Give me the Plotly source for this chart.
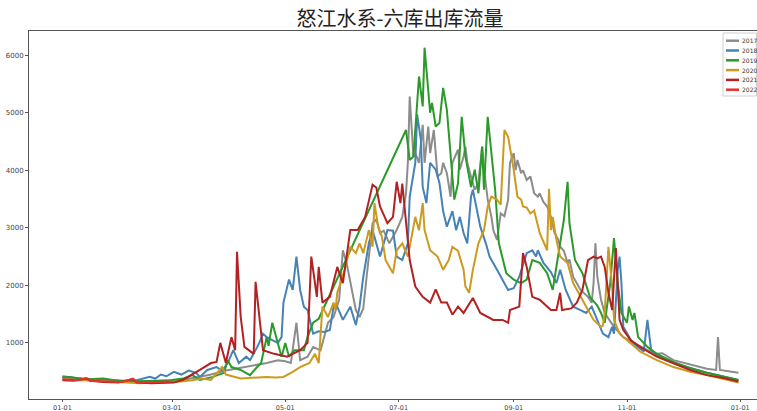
import pandas as pd
import plotly.graph_objects as go

# ---------------- data (day offset from 01-01, flow m3/s) ----------------
series_names = ["2017", "2018", "2019", "2020", "2021", "2022"]
series_colors = ["#8c8c8c", "#4682b4", "#2a9a2a", "#cc9a1e", "#b22222", "#e8302f"]

grey_days = [0, 5, 12, 20, 28, 35, 42, 50, 58, 65, 72, 80, 88, 95, 102, 110, 116, 120, 123, 126, 128, 132, 135, 139,
             143, 146, 149, 151, 153, 155, 158, 160, 162, 164, 167, 169, 171, 173, 176, 180, 183, 185, 186, 187, 189,
             190, 192, 194, 195, 197, 198, 200, 202, 204, 205, 207, 209, 210, 213, 214, 216, 217, 218, 220, 222, 224,
             226, 227, 229, 231, 232, 234, 236, 238, 240, 241, 243, 244, 245, 247, 248, 250, 252, 254, 256, 257, 259,
             261, 263, 265, 267, 268, 270, 272, 273, 275, 279, 283, 285, 286, 287, 288, 290, 292, 297, 302, 308, 315,
             320, 323, 329, 338, 347, 352, 353, 354, 364]
grey_vals = [400, 390, 370, 350, 340, 330, 320, 330, 340, 360, 400, 450, 520, 560, 600, 650, 700, 680, 650, 1350, 700,
             760, 930, 870, 1350, 1450, 1750, 2610, 2390, 2040, 1570, 1450, 1600, 2210, 3080, 3150, 2910, 2950, 2730,
             2960, 3190, 3600, 4130, 5280, 4240, 4300, 4130, 4790, 4130, 4760, 4300, 4700, 3890, 3950, 4130, 3950,
             3540, 4130, 4360, 4010, 4240, 4410, 4130, 3890, 3660, 3780, 4410, 4010, 3490, 3190, 2960, 2790, 3250,
             3200, 3490, 4130, 4300, 4000, 4180, 3950, 4000, 3830, 3890, 3600, 3540, 3600, 3450, 3370, 3190, 2910,
             2790, 2670, 2600, 2390, 2450, 2150, 1920, 1800, 1700, 2040, 2730, 2150, 1750, 1520, 1280, 1100, 1000,
             874, 810, 820, 700, 620, 550, 530, 1100, 530, 480]

blue_days = [0, 5, 10, 18, 25, 32, 40, 47, 50, 53, 56, 60, 64, 68, 72, 74, 78, 83, 86, 89, 92, 95, 99, 101, 104, 106,
             108, 110, 113, 116, 118, 119, 122, 124, 126, 128, 130, 132, 135, 138, 141, 144, 146, 148, 151, 155, 158,
             160, 162, 165, 167, 171, 175, 178, 180, 183, 186, 187, 190, 191, 193, 194, 196, 198, 201, 203, 205, 207,
             210, 212, 214, 216, 218, 220, 221, 223, 225, 228, 230, 234, 237, 240, 243, 246, 250, 253, 255, 256, 259,
             263, 266, 268, 271, 275, 279, 282, 285, 288, 291, 294, 296, 297, 299, 300, 301, 302, 307, 313, 315, 317,
             320, 329, 338, 347, 364]
blue_vals = [420, 400, 380, 370, 350, 340, 350, 409, 380, 450, 420, 496, 450, 520, 480, 409, 530, 580, 520, 650, 874,
             650, 760, 700, 874, 1000, 1160, 1100, 1050, 1000, 1100, 1700, 2100, 1920, 2500, 1920, 1630, 1570, 1160,
             1200, 1190, 1225, 1630, 1630, 1400, 1630, 1310, 1630, 2150, 2730, 2960, 2500, 2960, 2950, 2500, 2440,
             2730, 3540, 4130, 4970, 4530, 3710, 3430, 4130, 4010, 3780, 3290, 3020, 3290, 2960, 3190, 2910, 2730,
             3540, 3660, 3370, 3020, 2730, 2500, 2270, 2100, 1920, 1950, 2150, 2560, 2610, 2500, 2610, 2390, 2230,
             2040, 2270, 1920, 1630, 1570, 1520, 1630, 1400, 1160, 1100, 1280, 1160, 2270, 2500, 2040, 1280, 1000,
             850, 1400, 874, 790, 650, 560, 480, 357]

green_days = [0, 4, 8, 14, 22, 28, 35, 42, 50, 58, 65, 70, 74, 81, 87, 89, 91, 96, 101, 104, 107, 110, 111, 113, 115,
              118, 120, 122, 125, 130, 132, 135, 138, 185, 187, 189, 192, 194, 195, 197, 198, 199, 201, 203, 205, 207,
              209, 211, 213, 215, 217, 220, 222, 224, 226, 227, 229, 231, 233, 235, 239, 243, 247, 250, 253, 257, 261,
              264, 266, 268, 270, 272, 273, 276, 280, 284, 288, 290, 292, 295, 297, 299, 301, 304, 305, 307, 308, 310,
              315, 320, 329, 338, 347, 364]
green_vals = [400, 409, 380, 370, 380, 350, 330, 330, 340, 350, 380, 440, 357, 409, 480, 700, 580, 530, 440, 550, 650,
              1100, 950, 1350, 1100, 760, 1000, 760, 874, 874, 1100, 1350, 1420, 4700, 4180, 4240, 5630, 5110, 6130,
              5450, 5000, 5170, 4760, 4820, 5430, 5050, 4300, 3490, 3770, 4930, 4240, 3710, 4010, 3600, 4410, 3660,
              4930, 4240, 3660, 2730, 2210, 2100, 2040, 2100, 2440, 2390, 2210, 1920, 2320, 2790, 3140, 3800, 3080,
              2440, 2210, 1800, 1650, 1520, 1350, 2040, 2820, 2040, 1520, 1350, 1630, 1400, 1520, 1100, 930, 810,
              670, 560, 480, 357]

gold_days = [0, 6, 12, 20, 28, 35, 42, 50, 58, 64, 70, 75, 80, 84, 86, 88, 92, 96, 100, 105, 110, 115, 119, 124, 128,
             133, 136, 138, 140, 143, 146, 147, 148, 152, 155, 158, 160, 162, 165, 167, 168, 170, 172, 174, 178, 180,
             183, 186, 188, 190, 192, 194, 195, 198, 202, 205, 208, 210, 213, 216, 217, 219, 221, 224, 227, 229, 231,
             234, 236, 237, 238, 240, 242, 243, 245, 247, 248, 250, 252, 254, 257, 261, 262, 263, 264, 266, 268, 272,
             275, 279, 283, 286, 290, 291, 292, 293, 294, 296, 297, 300, 306, 311, 320, 329, 338, 347, 364]
gold_vals = [370, 360, 350, 330, 320, 310, 300, 310, 320, 330, 350, 380, 357, 500, 580, 450, 409, 380, 390, 400, 409,
             400, 409, 496, 580, 650, 810, 650, 1630, 1450, 1700, 1570, 1870, 2270, 2670, 2560, 2730, 2560, 2960,
             2670, 3430, 3020, 2850, 2440, 2210, 2610, 2730, 2500, 2850, 3190, 2960, 3430, 2960, 2610, 2500, 2270,
             2440, 2670, 2600, 2270, 1980, 1870, 2270, 2730, 2960, 3370, 3540, 3490, 3400, 4180, 4700, 4580, 4240,
             4010, 3540, 3490, 3370, 3350, 3250, 3300, 2910, 2610, 3680, 2960, 3190, 2790, 2500, 2390, 2040, 1800,
             1570, 1400, 1280, 1300, 1520, 2150, 2670, 1980, 1400, 1160, 1000, 850, 700, 580, 500, 440, 310]

firebrick_days = [0, 6, 13, 15, 22, 30, 38, 40, 48, 55, 60, 65, 70, 74, 80, 83, 85, 88, 91, 93, 94, 96, 98, 103, 104,
                  106, 108, 114, 121, 128, 132, 134, 137, 138, 140, 144, 148, 151, 155, 159, 163, 167, 169, 171, 175,
                  178, 180, 182, 183, 187, 190, 194, 198, 201, 204, 207, 210, 213, 216, 221, 225, 232, 237, 240, 241,
                  246, 248, 250, 253, 257, 263, 266, 268, 269, 274, 277, 280, 283, 286, 288, 290, 292, 294, 296, 298,
                  300, 302, 306, 311, 320, 329, 338, 347, 356, 364]
firebrick_vals = [350, 340, 380, 340, 320, 310, 370, 310, 300, 300, 310, 360, 450, 530, 650, 670, 1000, 650, 1100, 874,
                  2583, 1450, 930, 810, 2060, 1400, 874, 810, 760, 874, 1000, 2500, 1800, 2320, 1700, 1800, 2320,
                  2040, 2960, 2960, 3190, 3750, 3700, 3370, 3080, 3190, 3800, 3430, 3770, 2440, 1980, 1800, 1700,
                  1930, 1700, 1700, 1490, 1630, 1520, 1780, 1520, 1400, 1400, 1350, 1570, 1630, 2560, 2320, 1800,
                  1750, 1570, 1570, 1870, 1570, 1600, 1700, 1920, 2440, 2500, 2470, 2500, 2320, 1870, 1570, 2650,
                  1400, 1225, 1050, 930, 760, 650, 530, 440, 390, 330]

red_days = [0, 4, 8, 13, 15, 20, 26, 32, 38, 40, 46, 52, 58]
red_vals = [370, 360, 350, 390, 345, 335, 325, 320, 380, 320, 315, 320, 330]

all_days = [grey_days, blue_days, green_days, gold_days, firebrick_days, red_days]
all_vals = [grey_vals, blue_vals, green_vals, gold_vals, firebrick_vals, red_vals]

tick_labels = ["01-01", "03-01", "05-01", "07-01", "09-01", "11-01", "01-01"]
tick_dates = ["2001-01-01", "2001-03-01", "2001-05-01", "2001-07-01", "2001-09-01", "2001-11-01", "2002-01-01"]

title_text = "怒江水系-六库出库流量"

# ---------------- figure ----------------
W, H = 757, 411
ML, MR, MT, MB = 29, 0, 31, 12
base = pd.Timestamp("2001-01-01")

fig = go.Figure()
for name, color, d, v in zip(series_names, series_colors, all_days, all_vals):
    x = base + pd.to_timedelta(d, unit="D")
    fig.add_trace(go.Scatter(x=x, y=v, mode="lines", name=name,
                             line=dict(color=color, width=2), showlegend=False))

fig.update_layout(
    width=W, height=H,
    margin=dict(l=ML, r=MR, t=MT, b=MB, autoexpand=False),
    paper_bgcolor="white", plot_bgcolor="white",
    title=dict(text=title_text, x=400 / W, xref="container", xanchor="center",
               y=1 - 19 / H, yref="container", yanchor="middle",
               font=dict(family="Noto Sans CJK SC", size=20, color="#222222")),
    font=dict(family="DejaVu Sans", size=7, color="#333333"),
)

fig.update_xaxes(
    range=["2000-12-14", "2002-01-10"],
    tickvals=tick_dates, ticktext=tick_labels,
    showgrid=False, zeroline=False,
    showline=True, linecolor="#555555", linewidth=1, mirror=True,
    ticks="outside", ticklen=2, tickcolor="#555555",
    tickfont=dict(size=6.5, color="#444444"),
)
fig.update_yaxes(
    range=[25, 6420],
    tickvals=[1000, 2000, 3000, 4000, 5000, 6000],
    showgrid=False, zeroline=False,
    showline=True, linecolor="#555555", linewidth=1, mirror=False,
    ticks="outside", ticklen=3, tickcolor="#555555",
    tickfont=dict(size=7, color="#444444"),
)

# compact legend box at the right edge
pw = W - ML - MR
ph = H - MT - MB
def px(xp):
    return (xp - ML) / pw
def py(yp):
    return (H - MB - yp) / ph

fig.add_shape(type="rect", xref="paper", yref="paper",
              x0=px(723), x1=px(756.5), y0=py(96), y1=py(33),
              line=dict(color="#d0d0d0", width=1), fillcolor="rgba(255,255,255,0.85)")
for i, (name, color) in enumerate(zip(series_names, series_colors)):
    yy = 40.7 + i * 9.8
    fig.add_shape(type="line", xref="paper", yref="paper",
                  x0=px(726), x1=px(739), y0=py(yy), y1=py(yy),
                  line=dict(color=color, width=2.5))
    fig.add_annotation(xref="paper", yref="paper", x=px(740.5), y=py(yy),
                       xanchor="left", yanchor="middle", showarrow=False,
                       borderpad=0, text=name, font=dict(size=6, color="#333333"))

fig.write_html("out.html",
               config={"displayModeBar": False},
               post_script="document.body.style.margin='0';document.body.style.overflow='hidden';")
